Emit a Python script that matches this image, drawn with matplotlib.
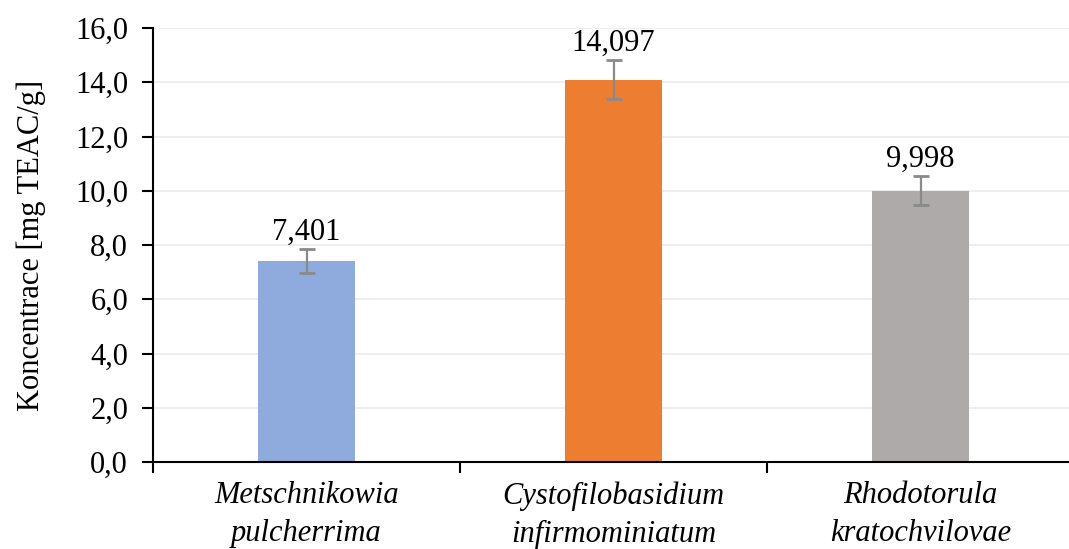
import matplotlib
matplotlib.use("Agg")
import matplotlib.pyplot as plt
import numpy as np

categories = ["Metschnikowia\npulcherrima", "Cystofilobasidium\ninfirmominiatum", "Rhodotorula\nkratochvilovae"]
values = [7.401, 14.097, 9.998]
errors = [0.44, 0.72, 0.53]
labels = ["7,401", "14,097", "9,998"]
colors = ["#8FAADC", "#ED7D31", "#AEAAAA"]
yticks = [0, 2, 4, 6, 8, 10, 12, 14, 16]
ytick_labels = ["0,0", "2,0", "4,0", "6,0", "8,0", "10,0", "12,0", "14,0", "16,0"]

plt.rcParams['font.family'] = ['Liberation Serif', 'DejaVu Serif']

fig = plt.figure(figsize=(10.69, 5.49), dpi=100)
ax = fig.add_axes([153/1069, 1-462/549, 921/1069, (462-28)/549])

x = np.arange(len(categories))
ax.bar(x, values, width=0.316, color=colors, zorder=2)
eb = ax.errorbar(x, values, yerr=errors, fmt='none', ecolor='#8a8a8a', elinewidth=1.6,
                 capsize=6, capthick=2.0, zorder=3)
for cl in eb[1]:
    cl.set_color('#5f5f5f')
for xi, v, e, lab in zip(x, values, errors, labels):
    ax.annotate(lab, (xi, v + e), xytext=(0, 7), textcoords='offset points',
                ha='center', va='baseline', fontsize=22)

ax.set_xlim(-0.5, 2.5)
ax.set_ylim(0, 16)
ax.set_yticks(yticks)
ax.set_yticklabels(ytick_labels, fontsize=22)
ax.set_xticks([-0.5, 0.5, 1.5, 2.5])
ax.set_xticklabels([])
ax.set_xticks(x, minor=True)
ax.set_xticklabels(categories, minor=True, fontsize=22, style='italic', linespacing=1.4)
ax.tick_params(axis='x', which='minor', length=0, pad=14)
ax.tick_params(axis='x', which='major', length=8, width=1.5, direction='out')
ax.tick_params(axis='y', length=8, width=1.5, direction='out', pad=10)

ax.yaxis.grid(True, color='#ebebeb', linewidth=1.2, zorder=0)
ax.set_axisbelow(True)
for s in ['top', 'right']:
    ax.spines[s].set_visible(False)
for s in ['left', 'bottom']:
    ax.spines[s].set_linewidth(1.5)
    ax.spines[s].set_color('black')

ax.set_ylabel("Koncentrace [mg TEAC/g]", fontsize=22, labelpad=21)

fig.savefig("out.png", dpi=100)
